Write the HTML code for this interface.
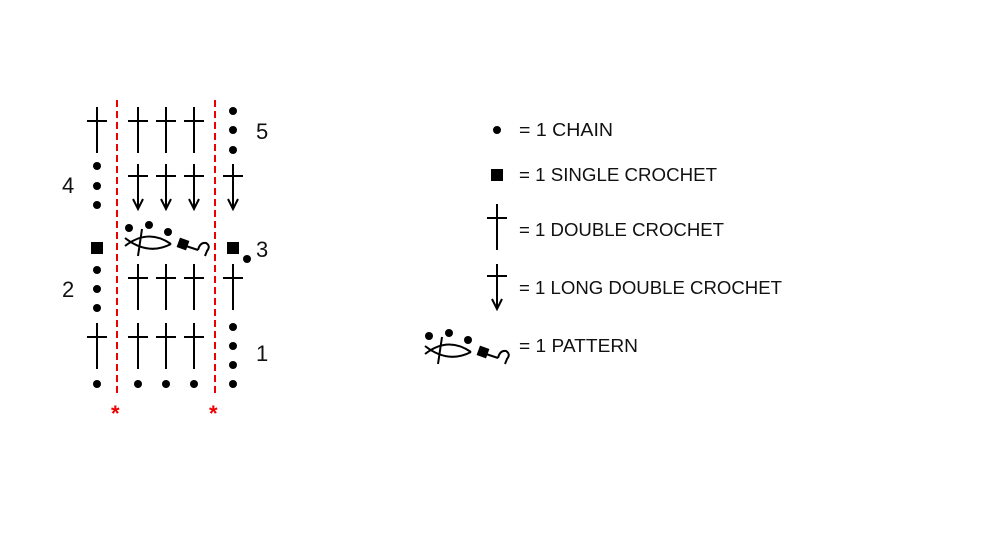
<!DOCTYPE html>
<html><head><meta charset="utf-8"><style>
html,body{margin:0;padding:0;background:#fff;}
svg{display:block;}
text{font-family:"Liberation Sans",sans-serif;fill:#111;}
</style></head><body>
<svg width="1000" height="560" viewBox="0 0 1000 560" xmlns="http://www.w3.org/2000/svg">
<defs>
<g id="dc" stroke="#000" stroke-width="2" fill="none"><line x1="0" y1="-14" x2="0" y2="32"/><line x1="-10" y1="0" x2="10" y2="0"/></g>
<g id="ldc" stroke="#000" stroke-width="2" fill="none"><line x1="0" y1="-12" x2="0" y2="33"/><line x1="-10" y1="0" x2="10" y2="0"/><polyline points="-5,23 0,33 5,23"/></g>
<circle id="d" r="4" fill="#000"/>
<rect id="sq" x="-6" y="-6" width="12" height="12" fill="#000"/>
<g id="pat">
<circle cx="129" cy="228" r="4" fill="#000"/><circle cx="149" cy="225" r="4" fill="#000"/><circle cx="168" cy="232" r="4" fill="#000"/>
<g stroke="#000" stroke-width="2" fill="none">
<path d="M125,246 Q148,228 171,244"/>
<path d="M125,238 Q148,256 171,244"/>
<line x1="142" y1="229" x2="138" y2="256"/>
<line x1="186" y1="246" x2="198" y2="250"/>
<path d="M198,250 Q200,242 206,243 Q211,246 207,251 L205,256"/>
</g>
<rect x="178" y="239" width="10" height="10" fill="#000" transform="rotate(20 183 244)"/>
</g>
</defs>
<g stroke="#e00" stroke-width="2" stroke-dasharray="7,4">
<line x1="117" y1="100" x2="117" y2="397"/>
<line x1="215" y1="100" x2="215" y2="397"/>
</g>
<text x="111" y="421" font-size="22" font-weight="bold" style="fill:#e00">*</text>
<text x="209" y="421" font-size="22" font-weight="bold" style="fill:#e00">*</text>
<use href="#dc" x="97" y="121"/>
<use href="#d" x="97" y="166"/><use href="#d" x="97" y="186"/><use href="#d" x="97" y="205"/>
<use href="#sq" x="97" y="248"/>
<use href="#d" x="97" y="270"/><use href="#d" x="97" y="289"/><use href="#d" x="97" y="308"/>
<use href="#dc" x="97" y="337"/>
<use href="#d" x="97" y="384"/>
<use href="#dc" x="138" y="121"/><use href="#dc" x="166" y="121"/><use href="#dc" x="194" y="121"/>
<use href="#ldc" x="138" y="176"/><use href="#ldc" x="166" y="176"/><use href="#ldc" x="194" y="176"/>
<use href="#pat"/>
<use href="#dc" x="138" y="278"/><use href="#dc" x="166" y="278"/><use href="#dc" x="194" y="278"/>
<use href="#dc" x="138" y="337"/><use href="#dc" x="166" y="337"/><use href="#dc" x="194" y="337"/>
<use href="#d" x="138" y="384"/><use href="#d" x="166" y="384"/><use href="#d" x="194" y="384"/>
<use href="#d" x="233" y="111"/><use href="#d" x="233" y="130"/><use href="#d" x="233" y="150"/>
<use href="#ldc" x="233" y="176"/>
<use href="#sq" x="233" y="248"/><use href="#d" x="247" y="259"/>
<use href="#dc" x="233" y="278"/>
<use href="#d" x="233" y="327"/><use href="#d" x="233" y="346"/><use href="#d" x="233" y="365"/><use href="#d" x="233" y="384"/>
<g font-size="22">
<text x="256" y="139">5</text>
<text x="62" y="193">4</text>
<text x="256" y="257">3</text>
<text x="62" y="297">2</text>
<text x="256" y="361">1</text>
</g>
<use href="#d" x="497" y="130"/>
<use href="#sq" x="497" y="175"/>
<use href="#dc" x="497" y="218"/>
<use href="#ldc" x="497" y="276"/>
<use href="#pat" transform="translate(300,108)"/>
<g font-size="18">
<text x="519" y="136" textLength="94" lengthAdjust="spacingAndGlyphs">= 1 CHAIN</text>
<text x="519" y="181" textLength="198" lengthAdjust="spacingAndGlyphs">= 1 SINGLE CROCHET</text>
<text x="519" y="236" textLength="205" lengthAdjust="spacingAndGlyphs">= 1 DOUBLE CROCHET</text>
<text x="519" y="294" textLength="263" lengthAdjust="spacingAndGlyphs">= 1 LONG DOUBLE CROCHET</text>
<text x="519" y="352" textLength="119" lengthAdjust="spacingAndGlyphs">= 1 PATTERN</text>
</g>
</svg>
</body></html>
